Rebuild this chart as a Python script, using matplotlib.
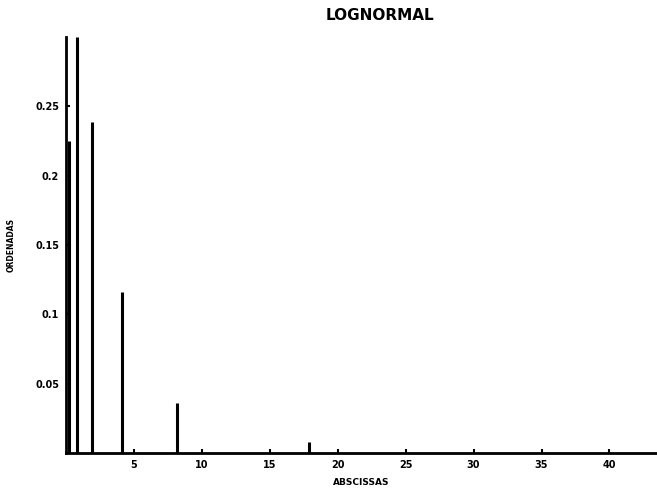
import numpy as np
import matplotlib
matplotlib.use("Agg")
import matplotlib.pyplot as plt

# === DONNÉES ===
x_pos = [0.2, 0.8, 1.9, 4.1, 8.2, 17.9]
heights = [0.225, 0.30, 0.239, 0.116, 0.036, 0.008]
xticks = [5, 10, 15, 20, 25, 30, 35, 40]
yticks = [0.05, 0.1, 0.15, 0.2, 0.25]
ytick_labels = ["0.05", "0.1", "0.15", "0.2", "0.25"]

fig = plt.figure(figsize=(6.57, 4.92), dpi=100)
ax = fig.add_axes([0.1005, 0.079, 0.8995, 0.846])

ax.vlines(x_pos, 0, heights, colors="black", linewidth=2.2)

ax.set_xlim(0, 43.5)
ax.set_ylim(0, 0.3)
ax.set_xticks(xticks)
ax.set_xticklabels([str(t) for t in xticks], fontsize=7, fontweight="bold")
ax.set_yticks(yticks)
ax.set_yticklabels(ytick_labels, fontsize=7, fontweight="bold")
ax.tick_params(direction="in", length=3, width=1.5, pad=5)

for side in ["top", "right"]:
    ax.spines[side].set_visible(False)
for side in ["left", "bottom"]:
    ax.spines[side].set_linewidth(2)

ax.set_xlabel("ABSCISSAS", fontsize=6.5, fontweight="bold", labelpad=6)
ax.set_ylabel("ORDENADAS", fontsize=5.5, fontweight="bold", labelpad=14)

fig.text(0.578, 0.968, "LOGNORMAL", ha="center", va="center", fontsize=11, fontweight="bold")

fig.savefig("out.png", dpi=100)
